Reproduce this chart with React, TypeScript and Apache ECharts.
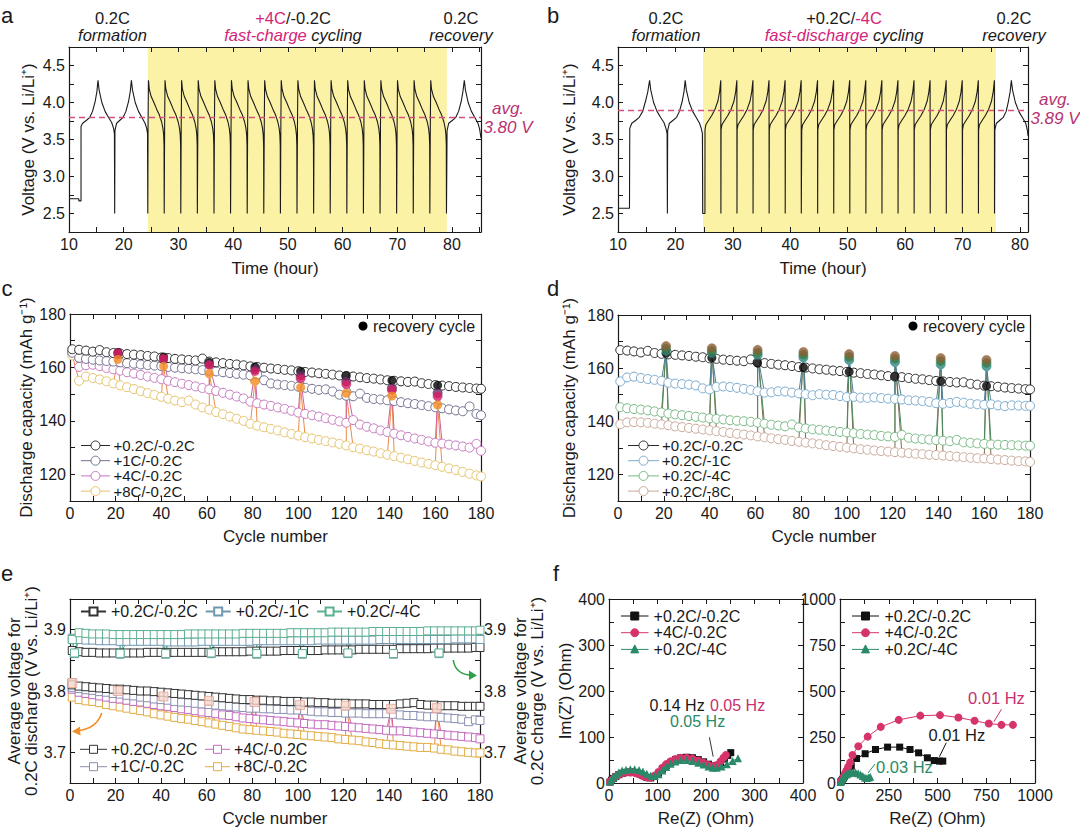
import React, { useEffect, useRef } from "react";
import * as echarts from "echarts";

const FONT = "'Liberation Sans', Arial, Helvetica, sans-serif";
const INK = "#1a1a1a";
const MAG = "#d4237a";
const AVGC = "#b83270";

// ---------- panel a (fast charge) voltage profile ----------
const A_HEAD = [[10,2.70],[11.8,2.70],[11.8,2.67],[12.2,2.67],[12.2,3.68],[12.5,3.72],[13.2,3.76],[13.8,3.80],[14.3,3.88],[14.8,4.02],[15.1,4.15],[15.3,4.30],[15.5,4.17],[16.0,4.00],[16.6,3.88],[17.2,3.80],[17.8,3.73],[18.15,3.65],[18.3,3.58],[18.35,2.50],[18.4,3.62],[18.7,3.72],[19.3,3.76],[19.9,3.80],[20.4,3.88],[20.9,4.02],[21.2,4.15],[21.4,4.30],[21.6,4.17],[22.1,4.00],[22.7,3.88],[23.3,3.80],[23.9,3.72],[24.2,3.65],[24.35,3.58],[24.4,2.50]];
const A_FAST_STARTS = [24.42,27.45,30.48,33.52,36.55,39.59,42.62,45.66,48.69,51.73,54.76,57.8,60.83,63.87,66.9,69.94,72.97,76.01];
const A_FAST_CYCLE = [[0,2.50],[0.03,3.70],[0.1,4.30],[0.25,4.18],[0.6,4.08],[1.1,4.00],[1.6,3.91],[2.1,3.83],[2.5,3.74],[2.75,3.65],[2.88,3.56],[2.95,3.42],[2.98,2.50]];
const A_TAIL = [[79.1,3.62],[79.4,3.72],[80.1,3.76],[80.7,3.80],[81.2,3.88],[81.7,4.02],[82.0,4.15],[82.25,4.30],[82.45,4.17],[82.95,4.00],[83.55,3.88],[84.15,3.80],[84.75,3.72],[85.05,3.64],[85.3,3.52]];
const A_BAND = [24.4, 79.05];
const A_AVG = 3.80;

// ---------- panel b (fast discharge) voltage profile ----------
const B_HEAD = [[10,2.57],[12.0,2.57],[12.05,3.65],[12.4,3.72],[13.1,3.76],[13.7,3.80],[14.3,3.88],[14.8,4.02],[15.2,4.15],[15.5,4.30],[15.7,4.17],[16.2,4.00],[16.8,3.88],[17.4,3.80],[18.0,3.73],[18.35,3.65],[18.55,3.58],[18.6,2.50],[18.65,3.62],[18.95,3.72],[19.6,3.76],[20.2,3.80],[20.7,3.88],[21.2,4.02],[21.5,4.15],[21.7,4.30],[21.9,4.17],[22.4,4.00],[23.0,3.88],[23.6,3.80],[24.2,3.72],[24.5,3.65],[24.7,3.58],[24.75,2.50]];
const B_FAST_PEAKS = [27.9,30.7,33.5,36.3,39.1,41.9,44.75,47.55,50.35,53.15,55.95,58.75,61.55,64.35,67.15,69.95,72.75,75.55];
const B_FAST_CYCLE = [[-2.76,2.50],[-2.75,3.63],[-2.6,3.70],[-2.2,3.75],[-1.6,3.82],[-1.0,3.91],[-0.5,4.02],[-0.2,4.15],[0,4.30],[0.02,2.50]];
const B_TAIL = [[75.62,3.63],[75.9,3.72],[76.5,3.76],[77.1,3.80],[77.6,3.88],[78.0,4.02],[78.3,4.15],[78.5,4.30],[78.7,4.17],[79.2,4.00],[79.8,3.88],[80.4,3.80],[81.0,3.72],[81.3,3.62],[81.4,3.55]];
const B_BAND = [24.8, 75.8];
const B_AVG = 3.89;

// ---------- cycling data (c, d, e) ----------
const CYCLES = [1,4,7,10,13,16,19,22,25,28,31,34,37,40,43,46,49,52,55,58,61,64,67,70,73,76,79,82,85,88,91,94,97,100,103,106,109,112,115,118,121,124,127,130,133,136,139,142,145,148,151,154,157,160,163,166,169,172,175,178,180];
const REC_CYCLES = [21,41,61,81,101,121,141,161];

const CAP_REF = [166.8,166.6,166.3,165.9,166.5,165.7,165.4,165.2,165.0,164.8,164.6,164.3,164.1,163.7,163.5,163.2,163.0,162.8,162.6,163.3,162.2,161.9,161.6,161.3,161.1,160.8,160.4,160.2,159.9,159.6,159.4,159.1,158.9,158.6,158.3,158.1,157.8,157.6,157.3,157.0,156.8,156.6,156.3,156.0,155.8,155.5,155.2,155.0,154.8,154.6,154.7,154.1,153.8,153.4,153.2,153.0,152.7,152.5,152.3,152.1,152.0];
const CAP_C1 = [165.5,163.6,163.2,162.9,162.6,162.4,162.2,161.9,161.6,161.4,161.1,160.9,160.7,160.5,160.2,159.9,159.7,159.5,159.3,159.0,158.8,158.5,158.2,157.9,157.6,157.3,157.0,157.4,155.2,154.0,153.6,153.4,153.1,152.8,152.4,152.0,151.6,151.8,151.0,149.8,149.4,149.2,150.2,148.6,148.2,148.0,147.7,147.4,147.0,146.6,146.3,145.9,145.5,145.1,144.7,144.3,143.9,143.6,145.4,142.6,142.1];
const CAP_C4 = [165.8,160.2,160.8,161.0,160.5,159.8,159.3,158.8,158.2,157.7,157.2,156.6,156.1,155.6,155.0,154.5,153.9,153.4,152.9,152.3,151.8,151.2,150.5,149.8,149.1,148.4,147.2,146.6,146.1,145.6,145.0,144.5,143.8,143.1,142.6,142.1,141.6,141.0,140.4,139.8,139.3,140.3,138.6,137.8,137.2,136.4,135.8,135.2,134.6,134.0,133.4,132.9,132.3,131.8,131.5,131.1,130.8,130.4,130.0,131.4,128.8];
const CAP_C8 = [164.5,155.0,156.6,156.0,155.5,154.8,154.0,153.3,152.6,151.9,151.1,150.4,149.7,149.0,148.3,147.6,147.0,147.6,146.1,145.0,144.2,143.3,142.5,141.6,140.8,140.0,138.9,138.2,137.6,137.0,136.4,135.7,135.1,134.5,133.9,133.4,132.9,132.4,131.9,131.4,130.8,130.1,129.6,129.0,128.5,127.9,127.3,126.8,126.2,125.6,125.0,124.4,123.9,123.4,122.8,122.2,121.6,120.9,120.2,119.6,119.2];
const REC_REF = [165.6,163.9,161.9,160.2,158.6,156.9,155.1,153.3];
const REC_C1 = [165.0,163.0,161.2,159.2,157.0,154.8,152.2,150.4];
const REC_C4 = [165.4,163.3,160.9,158.5,155.9,153.7,151.6,149.2];
const REC_C8 = [163.0,160.4,157.8,154.9,152.5,150.3,149.3,145.9];

const CAP_D1 = [155.0,156.5,156.8,156.3,155.9,155.6,155.2,154.5,154.2,154.0,153.8,153.5,152.4,152.0,152.9,153.1,152.9,152.6,152.2,151.8,151.3,150.8,150.9,151.3,151.2,150.8,150.5,150.2,149.8,150.2,150.0,149.9,149.5,149.1,149.2,148.9,148.8,149.0,148.7,148.5,148.4,148.2,147.9,147.8,147.6,147.3,146.8,146.6,146.9,147.3,147.0,146.6,146.4,146.2,146.4,146.0,145.7,146.0,145.9,145.8,145.8];
const CAP_D4 = [145.3,144.9,144.6,144.4,144.1,143.7,143.3,142.9,142.6,142.3,142.0,141.7,141.4,141.1,140.9,140.7,140.4,140.2,140.0,139.8,139.5,139.1,138.7,138.4,138.1,138.8,137.7,137.3,137.0,136.8,136.5,136.3,136.0,135.8,135.5,135.2,135.0,134.8,134.5,134.3,134.1,134.9,133.8,133.5,133.3,133.1,132.9,132.7,132.5,133.0,132.1,131.9,131.7,131.5,131.3,131.2,131.1,131.0,130.9,130.8,130.8];
const CAP_D8 = [138.9,139.6,139.7,139.6,139.4,139.1,138.8,138.5,138.1,137.8,137.5,137.2,136.9,136.6,136.3,136.0,135.6,135.3,135.0,134.7,134.3,134.0,133.6,133.3,133.0,132.6,132.3,132.0,131.7,131.4,131.0,130.7,130.4,130.1,129.8,129.5,129.3,129.0,128.8,128.6,128.4,128.2,128.0,127.8,127.6,127.4,127.3,127.1,126.9,126.7,126.5,126.3,126.1,126.0,125.8,125.6,125.4,125.2,125.0,124.9,124.7];
const REC_D1 = [166.4,165.6,164.9,164.0,163.1,162.3,161.4,160.7];
const REC_D4 = [167.3,166.5,165.8,165.0,164.2,163.4,162.6,161.9];
const REC_D8 = [168.3,167.5,166.9,166.1,165.3,164.6,163.8,163.1];

const E_REF_DIS = [3.810,3.808,3.807,3.806,3.805,3.804,3.803,3.803,3.802,3.801,3.800,3.800,3.799,3.798,3.797,3.796,3.795,3.794,3.793,3.792,3.791,3.790,3.789,3.788,3.787,3.786,3.786,3.785,3.785,3.784,3.784,3.783,3.783,3.783,3.782,3.782,3.781,3.781,3.780,3.780,3.780,3.779,3.779,3.779,3.778,3.778,3.778,3.778,3.779,3.780,3.781,3.778,3.777,3.777,3.776,3.776,3.776,3.775,3.775,3.775,3.775];
const E_C1 = [3.806,3.804,3.802,3.801,3.799,3.798,3.796,3.795,3.793,3.792,3.790,3.789,3.787,3.786,3.785,3.783,3.782,3.781,3.780,3.779,3.778,3.777,3.776,3.775,3.774,3.773,3.772,3.772,3.771,3.771,3.770,3.770,3.769,3.769,3.768,3.767,3.766,3.766,3.765,3.765,3.764,3.764,3.764,3.763,3.763,3.763,3.763,3.762,3.761,3.760,3.760,3.759,3.758,3.758,3.757,3.756,3.755,3.754,3.750,3.753,3.752];
const E_C4 = [3.803,3.798,3.796,3.794,3.792,3.790,3.788,3.787,3.785,3.783,3.782,3.780,3.778,3.776,3.775,3.773,3.771,3.770,3.768,3.766,3.765,3.763,3.761,3.760,3.758,3.756,3.755,3.754,3.753,3.752,3.751,3.750,3.749,3.748,3.747,3.746,3.745,3.745,3.744,3.743,3.742,3.741,3.740,3.739,3.738,3.737,3.736,3.735,3.735,3.734,3.733,3.732,3.731,3.730,3.729,3.728,3.727,3.726,3.725,3.724,3.722];
const E_C8 = [3.790,3.786,3.784,3.783,3.781,3.778,3.776,3.774,3.772,3.770,3.768,3.766,3.763,3.761,3.759,3.757,3.755,3.754,3.752,3.750,3.748,3.746,3.744,3.742,3.740,3.738,3.737,3.736,3.735,3.734,3.733,3.731,3.730,3.729,3.728,3.727,3.726,3.725,3.724,3.722,3.721,3.720,3.719,3.717,3.716,3.714,3.713,3.712,3.711,3.710,3.709,3.708,3.708,3.707,3.705,3.704,3.702,3.701,3.700,3.699,3.699];
const E_REC_CYCLES = [1,21,41,61,81,101,121,141,161];
const E_REC = [3.813,3.800,3.791,3.784,3.782,3.777,3.776,3.771,3.772];

const E_REF_CH = [3.866,3.864,3.863,3.863,3.862,3.862,3.862,3.862,3.862,3.862,3.862,3.863,3.863,3.863,3.863,3.863,3.863,3.863,3.863,3.863,3.863,3.864,3.864,3.864,3.864,3.864,3.865,3.865,3.865,3.865,3.865,3.866,3.866,3.866,3.866,3.866,3.866,3.867,3.867,3.867,3.867,3.867,3.868,3.868,3.868,3.868,3.868,3.868,3.869,3.869,3.869,3.869,3.869,3.870,3.870,3.870,3.870,3.870,3.870,3.871,3.871];
const E_D1 = [3.886,3.884,3.883,3.883,3.882,3.882,3.882,3.881,3.881,3.881,3.881,3.881,3.881,3.881,3.880,3.880,3.880,3.880,3.880,3.881,3.881,3.881,3.881,3.881,3.881,3.881,3.881,3.882,3.882,3.882,3.882,3.882,3.882,3.882,3.882,3.882,3.883,3.883,3.883,3.883,3.883,3.883,3.883,3.883,3.883,3.884,3.884,3.884,3.884,3.884,3.884,3.884,3.884,3.884,3.884,3.884,3.885,3.885,3.885,3.885,3.884];
const E_D4 = [3.884,3.895,3.894,3.893,3.893,3.893,3.892,3.892,3.892,3.892,3.892,3.892,3.892,3.892,3.892,3.892,3.892,3.893,3.893,3.893,3.893,3.893,3.893,3.893,3.893,3.894,3.894,3.894,3.894,3.894,3.894,3.894,3.895,3.895,3.895,3.895,3.895,3.895,3.896,3.896,3.896,3.896,3.896,3.896,3.897,3.897,3.897,3.897,3.897,3.897,3.897,3.897,3.898,3.898,3.898,3.898,3.898,3.898,3.898,3.898,3.899];
const E_DIP_CYCLES = [2,22,42,62,82,102,122,142,162];
const E_DIP_D1 = [3.861,3.860,3.860,3.861,3.860,3.860,3.861,3.860,3.861];
const E_DIP_D4 = [3.862,3.861,3.861,3.862,3.861,3.861,3.862,3.861,3.862];

// ---------- impedance (f) ----------
const F1_REF = [[2,2],[5,6],[9,10],[14,14],[20,18],[27,21],[35,23],[44,24],[53,23],[62,20],[70,16],[78,12],[86,11],[94,14],[102,21],[110,30],[118,38],[127,45],[137,51],[148,55],[160,56],[172,55],[184,51],[195,46],[205,41],[214,37],[222,38],[230,44],[238,52],[245,60],[251,66]];
const F1_C4 = [[2,2],[5,6],[9,10],[14,14],[20,18],[27,21],[35,23],[44,23],[53,22],[62,19],[70,15],[78,12],[86,12],[94,16],[102,24],[110,33],[118,41],[127,47],[137,52],[148,55],[160,55],[172,53],[184,49],[195,44],[205,39],[214,36],[222,39],[230,47],[236,55],[241,61]];
const F1_D4 = [[2,3],[5,8],[9,13],[14,18],[20,23],[27,27],[35,29],[44,30],[53,30],[62,28],[70,25],[78,20],[86,16],[94,15],[102,19],[110,27],[118,35],[127,42],[137,47],[148,50],[160,50],[172,48],[184,44],[195,40],[205,36],[214,33],[222,33],[232,36],[243,41],[255,48],[266,54]];
const F2_REF = [[4,6],[8,12],[13,20],[18,28],[23,36],[32,48],[41,60],[58,91],[85,133],[129,159],[182,182],[244,195],[306,195],[359,182],[403,164],[448,137],[483,122],[510,119],[527,119]];
const F2_C4 = [[5,8],[11,18],[18,33],[25,50],[33,68],[42,88],[52,112],[64,152],[94,200],[142,252],[209,305],[301,343],[412,366],[513,369],[607,356],[690,338],[763,323],[828,316],[887,316]];
const F2_D4 = [[3,5],[6,12],[10,20],[15,28],[22,37],[32,46],[42,52],[55,56],[68,58],[80,57],[93,53],[105,46],[117,38],[128,30],[138,27],[147,30],[155,34]];

// ---------- legend labels / colours ----------
const C_NAMES = ["+0.2C/-0.2C", "+1C/-0.2C", "+4C/-0.2C", "+8C/-0.2C"];
const D_NAMES = ["+0.2C/-0.2C", "+0.2C/-1C", "+0.2C/-4C", "+0.2C/-8C"];
const C_EDGE = ["#2a2a2a", "#6f6f8f", "#c678c0", "#e6c36a"];
const D_EDGE = ["#2a2a2a", "#7aaace", "#76b883", "#c9a898"];
const EL_COL1 = ["+0.2C/-0.2C", "+1C/-0.2C"];
const EL_COL2 = ["+4C/-0.2C", "+8C/-0.2C"];
const EL_EDGE1 = ["#333333", "#8a8fb0"];
const EL_EDGE2 = ["#c36ac0", "#e3ad45"];
const F_NAMES = ["+0.2C/-0.2C", "+4C/-0.2C", "+0.2C/-4C"];
const F_COLORS = ["#111111", "#d6336c", "#2a8a68"];
const F_SHAPES = ["rect", "circle", "triangle"];

// ---------- helpers ----------
function buildProfile(head: number[][], starts: number[], cycle: number[][], tail: number[][]) {
  const pts: number[][] = head.map((p) => [p[0], p[1]]);
  starts.forEach((t0) => cycle.forEach(([dt, v]) => pts.push([Math.round((t0 + dt) * 1000) / 1000, v])));
  tail.forEach((p) => pts.push([p[0], p[1]]));
  return pts;
}
function merge(xs: number[], ys: number[], rx?: number[], ry?: number[]) {
  const pts = xs.map((x, i) => [x, ys[i]]);
  if (rx && ry) rx.forEach((x, i) => pts.push([x, ry[i]]));
  pts.sort((a, b) => a[0] - b[0]);
  return pts;
}
const pairs = (xs: number[], ys: number[]) => xs.map((x, i) => [x, ys[i]]);
const strip = (n: string) => n.slice(n.indexOf("|") + 1);

type Spec = { min: number; max: number; step: number; every: number; dec: number; name?: string; gap?: number };
const fmt = (every: number, dec: number) => (v: number) => {
  const r = v / every;
  return Math.abs(r - Math.round(r)) < 1e-6 ? v.toFixed(dec) : "";
};
function axis(gi: number, s: Spec, pos: string, show: boolean, isY: boolean) {
  const a: any = {
    type: "value", gridIndex: gi, position: pos, min: s.min, max: s.max, interval: s.step, z: 3,
    axisLine: { show: true, onZero: false, lineStyle: { color: INK, width: 1.2 } },
    axisTick: { show: true, inside: true, length: 5, lineStyle: { color: INK, width: 1 } },
    splitLine: { show: false },
    axisLabel: { show: show, margin: 4, fontSize: 16, fontFamily: FONT, color: INK, formatter: fmt(s.every, s.dec) },
  };
  if (show && s.name) {
    a.name = s.name;
    a.nameLocation = "middle";
    a.nameGap = s.gap;
    a.nameTextStyle = { fontSize: 17, fontFamily: FONT, color: INK, lineHeight: 17 };
    if (isY) a.nameRotate = 90;
  }
  return a;
}

function buildOption() {
  const grid: any[] = [];
  const xAxis: any[] = [];
  const yAxis: any[] = [];
  const series: any[] = [];
  const legend: any[] = [];
  const graphic: any[] = [];

  const panel = (box: any, xs: Spec, ys: Spec, yr?: Spec) => {
    const gi = grid.length;
    grid.push({ ...box, containLabel: false });
    const xi = xAxis.length;
    xAxis.push(axis(gi, xs, "bottom", true, false));
    xAxis.push(axis(gi, xs, "top", false, false));
    const yi = yAxis.length;
    yAxis.push(axis(gi, ys, "left", true, true));
    yAxis.push(axis(gi, yr || ys, "right", !!yr, true));
    return { xi, yi, yri: yi + 1 };
  };

  const voltY = (gap: number): Spec => ({ min: 2.25, max: 4.75, step: 0.25, every: 0.5, dec: 1, name: "Voltage (V vs. Li/Li\u207A)", gap });
  const capY = (gap: number): Spec => ({ min: 110, max: 180, step: 10, every: 20, dec: 0, name: "Discharge capacity (mAh g\u207B\u00B9)", gap });
  const cycX: Spec = { min: 0, max: 180, step: 10, every: 20, dec: 0, name: "Cycle number", gap: 27 };

  // ---- a & b ----
  const pa = panel({ left: 69, top: 47, width: 412, height: 185 },
    { min: 10, max: 85.3, step: 5, every: 10, dec: 0, name: "Time (hour)", gap: 28 }, voltY(32));
  const pb = panel({ left: 618, top: 47, width: 410, height: 185 },
    { min: 10, max: 81.4, step: 5, every: 10, dec: 0, name: "Time (hour)", gap: 28 }, voltY(40));

  const voltage = (p: any, band: number[], data: number[][], avg: number) => {
    series.push({
      type: "line", xAxisIndex: p.xi, yAxisIndex: p.yi, silent: true, z: 1,
      data: [[band[0], 4.75], [band[1], 4.75]], symbol: "none", lineStyle: { width: 0 },
      areaStyle: { color: "#fcf2a6", opacity: 1, origin: "start" },
    });
    series.push({
      type: "line", xAxisIndex: p.xi, yAxisIndex: p.yi, silent: true, z: 4,
      data, symbol: "none", lineStyle: { color: INK, width: 1.1 },
      markLine: {
        silent: true, symbol: ["none", "none"], label: { show: false },
        lineStyle: { type: [6, 4], color: "#d4507e", width: 1.3 }, data: [{ yAxis: avg }],
      },
    });
  };
  voltage(pa, A_BAND, buildProfile(A_HEAD, A_FAST_STARTS, A_FAST_CYCLE, A_TAIL), A_AVG);
  voltage(pb, B_BAND, buildProfile(B_HEAD, B_FAST_PEAKS, B_FAST_CYCLE, B_TAIL), B_AVG);

  // ---- c & d ----
  const pc = panel({ left: 70, top: 314, width: 411, height: 187 }, cycX, capY(33));
  const pd = panel({ left: 618, top: 315, width: 412, height: 186 }, cycX, capY(40));

  const capSeries = (p: any, name: string, data: number[][], edge: string, line: string) => {
    series.push({
      type: "line", name, xAxisIndex: p.xi, yAxisIndex: p.yi, z: 4, silent: true,
      data, symbol: "circle", symbolSize: 9, showSymbol: true,
      itemStyle: { color: "#ffffff", borderColor: edge, borderWidth: 1 },
      lineStyle: { color: line, width: 1 },
    });
  };
  const recSeries = (p: any, ys: number[], fill: string) => {
    series.push({
      type: "scatter", xAxisIndex: p.xi, yAxisIndex: p.yi, z: 5, silent: true,
      data: pairs(REC_CYCLES, ys), symbol: "circle", symbolSize: 9,
      itemStyle: { color: fill },
    });
  };

  capSeries(pc, "c|+8C/-0.2C", merge(CYCLES, CAP_C8, REC_CYCLES, REC_C8), C_EDGE[3], "#ee8a48");
  capSeries(pc, "c|+4C/-0.2C", merge(CYCLES, CAP_C4, REC_CYCLES, REC_C4), C_EDGE[2], "#d0609a");
  capSeries(pc, "c|+1C/-0.2C", merge(CYCLES, CAP_C1, REC_CYCLES, REC_C1), C_EDGE[1], C_EDGE[1]);
  capSeries(pc, "c|+0.2C/-0.2C", merge(CYCLES, CAP_REF), C_EDGE[0], C_EDGE[0]);
  recSeries(pc, REC_REF, "#000000");
  recSeries(pc, REC_C1, "#6a2c6e");
  recSeries(pc, REC_C4, "#d81b60");
  recSeries(pc, REC_C8, "#f5891f");

  capSeries(pd, "d|+0.2C/-8C", merge(CYCLES, CAP_D8, REC_CYCLES, REC_D8), D_EDGE[3], "#7d6b4f");
  capSeries(pd, "d|+0.2C/-4C", merge(CYCLES, CAP_D4, REC_CYCLES, REC_D4), D_EDGE[2], "#4d8a5c");
  capSeries(pd, "d|+0.2C/-1C", merge(CYCLES, CAP_D1, REC_CYCLES, REC_D1), D_EDGE[1], "#4f7d99");
  capSeries(pd, "d|+0.2C/-0.2C", merge(CYCLES, CAP_REF), D_EDGE[0], D_EDGE[0]);
  recSeries(pd, REC_REF, "#000000");
  recSeries(pd, REC_D1, "#2c8c7c");
  recSeries(pd, REC_D4, "#3d7a45");
  recSeries(pd, REC_D8, "#8b5e34");

  // ---- e ----
  const eY: Spec = { min: 3.65, max: 3.95, step: 0.05, every: 0.1, dec: 1, name: "Average voltage for\n0.2C discharge (V vs. Li/Li\u207A)", gap: 21 };
  const eYR: Spec = { min: 3.65, max: 3.95, step: 0.05, every: 0.1, dec: 1, name: "Average voltage for\n0.2C charge (V vs. Li/Li\u207A)", gap: 32 };
  const pe = panel({ left: 70, top: 599, width: 410, height: 184 }, cycX, eY, eYR);
  const eSeries = (name: string, yi: number, data: number[][], edge: string, line: string) => {
    series.push({
      type: "line", name, xAxisIndex: pe.xi, yAxisIndex: yi, z: 4, silent: true,
      data, symbol: "rect", symbolSize: 8, showSymbol: true,
      itemStyle: { color: "#ffffff", borderColor: edge, borderWidth: 1 },
      lineStyle: { color: line, width: 1 },
    });
  };
  eSeries("el|+8C/-0.2C", pe.yi, merge(CYCLES, E_C8, E_REC_CYCLES, E_REC), EL_EDGE2[1], "#ee8a48");
  eSeries("el|+4C/-0.2C", pe.yi, merge(CYCLES, E_C4, E_REC_CYCLES, E_REC), EL_EDGE2[0], "#d0609a");
  eSeries("el|+1C/-0.2C", pe.yi, merge(CYCLES, E_C1, E_REC_CYCLES, E_REC), EL_EDGE1[1], EL_EDGE1[1]);
  eSeries("el|+0.2C/-0.2C", pe.yi, merge(CYCLES, E_REF_DIS), EL_EDGE1[0], EL_EDGE1[0]);
  series.push({
    type: "scatter", xAxisIndex: pe.xi, yAxisIndex: pe.yi, z: 5, silent: true,
    data: pairs(E_REC_CYCLES, E_REC), symbol: "rect", symbolSize: 9,
    itemStyle: { color: "#f7d6cc", borderColor: "#e6a596", borderWidth: 1 },
  });
  eSeries("eu|+0.2C/-0.2C", pe.yri, merge(CYCLES, E_REF_CH), "#333333", "#333333");
  eSeries("eu|+0.2C/-1C", pe.yri, merge(CYCLES, E_D1, E_DIP_CYCLES, E_DIP_D1), "#6f98b0", "#6f98b0");
  eSeries("eu|+0.2C/-4C", pe.yri, merge(CYCLES, E_D4, E_DIP_CYCLES, E_DIP_D4), "#5bb08f", "#5bb08f");

  legend.push({
    data: ["eu|+0.2C/-0.2C", "eu|+0.2C/-1C", "eu|+0.2C/-4C"], formatter: strip,
    orient: "horizontal", left: 80, top: 603, itemWidth: 25, itemHeight: 10, itemGap: 7, padding: 0,
    selectedMode: false, textStyle: { fontSize: 16, fontFamily: FONT, color: INK, lineHeight: 17 },
  });

  // ---- f ----
  const pf1 = panel({ left: 609, top: 599, width: 194, height: 184 },
    { min: 0, max: 400, step: 50, every: 100, dec: 0, name: "Re(Z) (Ohm)", gap: 27 },
    { min: 0, max: 400, step: 50, every: 100, dec: 0, name: "Im(Z') (Ohm)", gap: 31 });
  const pf2 = panel({ left: 840, top: 599, width: 195, height: 184 },
    { min: 0, max: 1000, step: 125, every: 250, dec: 0, name: "Re(Z) (Ohm)", gap: 27 },
    { min: 0, max: 1000, step: 125, every: 250, dec: 0 });
  const fSeries = (p: any, name: string, data: number[][], color: string, shape: string, size: number) => {
    series.push({
      type: "line", name, xAxisIndex: p.xi, yAxisIndex: p.yi, z: 4, silent: true,
      data, symbol: shape, symbolSize: size, showSymbol: true,
      itemStyle: { color }, lineStyle: { color, width: 1 },
    });
  };
  fSeries(pf1, "f1|+0.2C/-0.2C", F1_REF, F_COLORS[0], "rect", 7);
  fSeries(pf1, "f1|+4C/-0.2C", F1_C4, F_COLORS[1], "circle", 8);
  fSeries(pf1, "f1|+0.2C/-4C", F1_D4, F_COLORS[2], "triangle", 8);
  fSeries(pf2, "f2|+0.2C/-0.2C", F2_REF, F_COLORS[0], "rect", 7);
  fSeries(pf2, "f2|+4C/-0.2C", F2_C4, F_COLORS[1], "circle", 8);
  fSeries(pf2, "f2|+0.2C/-4C", F2_D4, F_COLORS[2], "triangle", 8);

  // ---- graphic annotations ----
  const tok = (fill: string, italic: boolean, lh: number, size = 17, extra: any = {}) => ({
    fill, color: fill, fontSize: size, fontFamily: FONT, fontStyle: italic ? "italic" : "normal", lineHeight: lh, ...extra,
  });
  const txt = (x: number, y: number, text: string, o: any = {}) => ({
    type: "text", x, y, silent: true, z: 20,
    style: {
      text, fill: o.fill || INK, fontSize: o.size || 17, fontFamily: FONT,
      fontStyle: o.italic ? "italic" : "normal", lineHeight: o.lh,
      textAlign: o.align || "center", align: o.align || "center",
      textVerticalAlign: "middle", verticalAlign: "middle",
      rich: o.rich,
    },
  });
  const marker = (shape: string, cx: number, cy: number, stroke: string, fill: string, s: number) => {
    const style = { fill, stroke, lineWidth: 1 };
    if (shape === "circle") return { type: "circle", shape: { cx, cy, r: s / 2 }, style, z: 21, silent: true };
    if (shape === "rect") return { type: "rect", shape: { x: cx - s / 2, y: cy - s / 2, width: s, height: s }, style, z: 21, silent: true };
    return { type: "polygon", shape: { points: [[cx, cy - s / 2 - 0.5], [cx - s / 2, cy + s / 2 - 0.5], [cx + s / 2, cy + s / 2 - 0.5]] }, style, z: 21, silent: true };
  };
  // legend rows: icon line + marker, label text
  const legendBlock = (names: string[], lines: string[], shapes: string[], fills: (string | null)[],
    x0: number, x1: number, tx: number, y0: number, dy: number, size: number, ms: number) => {
    names.forEach((n, k) => {
      const y = y0 + k * dy;
      graphic.push({ type: "line", shape: { x1: x0, y1: y, x2: x1, y2: y }, style: { stroke: lines[k], lineWidth: 1 }, z: 20, silent: true });
      graphic.push(marker(shapes[k], (x0 + x1) / 2, y, lines[k], fills[k] || "#ffffff", ms));
      graphic.push(txt(tx, y, n, { align: "left", size }));
    });
  };
  legendBlock(C_NAMES, C_EDGE, ["circle", "circle", "circle", "circle"], [null, null, null, null], 81, 110, 113.5, 445.5, 15.2, 15, 9);
  legendBlock(D_NAMES, D_EDGE, ["circle", "circle", "circle", "circle"], [null, null, null, null], 628, 659, 662, 445.5, 15.2, 15, 9);
  legendBlock(EL_COL1, EL_EDGE1, ["rect", "rect"], [null, null], 80, 107, 110.7, 749.3, 17.4, 16, 8);
  legendBlock(EL_COL2, EL_EDGE2, ["rect", "rect"], [null, null], 205, 230, 234, 749.3, 17.4, 16, 8);
  legendBlock(F_NAMES, F_COLORS, F_SHAPES, F_COLORS, 621, 648.5, 653.6, 616, 16.7, 16, 8);
  legendBlock(F_NAMES, F_COLORS, F_SHAPES, F_COLORS, 852, 879, 884.4, 616, 16.7, 16, 8);

  graphic.push(txt(7, 15, "a", { size: 22 }));
  graphic.push(txt(553, 15, "b", { size: 22 }));
  graphic.push(txt(7, 288, "c", { size: 22 }));
  graphic.push(txt(553, 288, "d", { size: 22 }));
  graphic.push(txt(7, 573, "e", { size: 22 }));
  graphic.push(txt(556, 573, "f", { size: 22 }));

  const HS = 16.5;
  const HL = 17;
  const hdrRich = {
    n: tok(INK, false, HL, HS), i: tok(INK, true, HL, HS),
    m: tok(MAG, false, HL, HS), mi: tok(MAG, true, HL, HS),
  };
  graphic.push(txt(112.5, 26.5, "{n|0.2C}\n{i|formation}", { rich: hdrRich }));
  graphic.push(txt(293, 26.5, "{m|+4C}{n|/-0.2C}\n{mi|fast-charge}{i| cycling}", { rich: hdrRich }));
  graphic.push(txt(461, 26.5, "{n|0.2C}\n{i|recovery}", { rich: hdrRich }));
  graphic.push(txt(508, 117.5, "{a|avg.}\n{a|3.80 V}", { rich: { a: tok(AVGC, true, 19) } }));

  graphic.push(txt(666, 26.5, "{n|0.2C}\n{i|formation}", { rich: hdrRich }));
  graphic.push(txt(844, 26.5, "{n|+0.2C/}{m|-4C}\n{mi|fast-discharge}{i| cycling}", { rich: hdrRich }));
  graphic.push(txt(1014, 26.5, "{n|0.2C}\n{i|recovery}", { rich: hdrRich }));
  graphic.push(txt(1055, 109, "{a|avg.}\n{a|3.89 V}", { rich: { a: tok(AVGC, true, 18.5) } }));

  graphic.push({ type: "circle", shape: { cx: 363, cy: 326, r: 4.5 }, style: { fill: "#000" }, z: 20, silent: true });
  graphic.push(txt(373, 326, "recovery cycle", { size: 16, align: "left" }));
  graphic.push({ type: "circle", shape: { cx: 913, cy: 326, r: 4.5 }, style: { fill: "#000" }, z: 20, silent: true });
  graphic.push(txt(923, 326, "recovery cycle", { size: 16, align: "left" }));

  // arrows in e
  graphic.push({ type: "bezierCurve", shape: { x1: 101.7, y1: 713, x2: 79, y2: 730.5, cpx1: 97, cpy1: 728 }, style: { stroke: "#f0902a", lineWidth: 1.6, fill: "none" }, z: 20, silent: true });
  graphic.push({ type: "polygon", shape: { points: [[72, 731.5], [80, 726.5], [80.5, 735.5]] }, style: { fill: "#f0902a" }, z: 20, silent: true });
  graphic.push({ type: "bezierCurve", shape: { x1: 453.3, y1: 660, x2: 469, y2: 675, cpx1: 455, cpy1: 673 }, style: { stroke: "#2ea04a", lineWidth: 1.6, fill: "none" }, z: 20, silent: true });
  graphic.push({ type: "polygon", shape: { points: [[477, 675.5], [469, 670.5], [469, 680]] }, style: { fill: "#2ea04a" }, z: 20, silent: true });

  // frequency labels in f
  graphic.push(txt(649.5, 705.5, "0.14 Hz", { align: "left", size: 16 }));
  graphic.push(txt(710, 705.5, "0.05 Hz", { align: "left", size: 16, fill: "#c8306e" }));
  graphic.push(txt(670, 721.5, "0.05 Hz", { align: "left", size: 16, fill: "#2a8a68" }));
  graphic.push({ type: "line", shape: { x1: 709.4, y1: 737.3, x2: 713.2, y2: 756.7 }, style: { stroke: "#333", lineWidth: 1 }, z: 20, silent: true });
  graphic.push(txt(968, 698, "0.01 Hz", { align: "left", fill: "#c8306e", size: 16.5 }));
  graphic.push({ type: "line", shape: { x1: 1001.4, y1: 709.3, x2: 993.9, y2: 721.7 }, style: { stroke: "#c8306e", lineWidth: 1 }, z: 20, silent: true });
  graphic.push(txt(928.4, 735, "0.01 Hz", { align: "left", size: 16.5 }));
  graphic.push({ type: "line", shape: { x1: 946.3, y1: 742.7, x2: 939.4, y2: 756.7 }, style: { stroke: "#111", lineWidth: 1 }, z: 20, silent: true });
  graphic.push(txt(876, 767, "0.03 Hz", { align: "left", fill: "#2a8a68", size: 16.5 }));
  graphic.push({ type: "line", shape: { x1: 875, y1: 764, x2: 868, y2: 773 }, style: { stroke: "#2a8a68", lineWidth: 1 }, z: 20, silent: true });

  return {
    animation: false,
    backgroundColor: "#ffffff",
    textStyle: { fontFamily: FONT },
    grid, xAxis, yAxis, series, legend,
    graphic: { elements: graphic },
  };
}

export default function App() {
  const ref = useRef<HTMLDivElement>(null);
  useEffect(() => {
    document.body.style.margin = "0";
    if (!ref.current) return;
    const chart = echarts.init(ref.current, undefined, { renderer: "svg" });
    chart.setOption(buildOption() as any);
    return () => chart.dispose();
  }, []);
  return <div ref={ref} style={{ width: 1080, height: 832 }} />;
}
